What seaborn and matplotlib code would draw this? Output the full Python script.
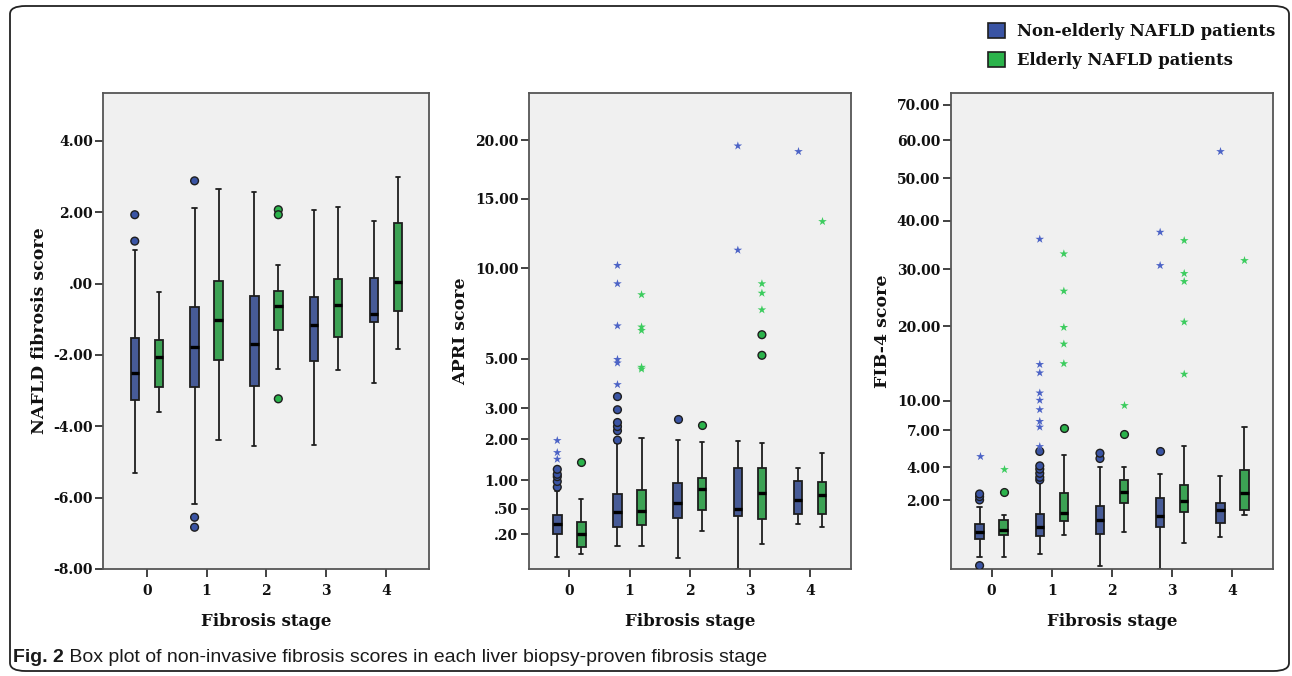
import numpy as np
import pandas as pd
import seaborn as sns
import matplotlib.pyplot as plt
from matplotlib.patches import Patch, FancyBboxPatch

# ---------------- data ----------------
stages = ["0", "1", "2", "3", "4"]
groups = ["Non-elderly NAFLD patients", "Elderly NAFLD patients"]

# NAFLD fibrosis score: five-number summaries per stage
nfs_non_lo = [-5.31, -6.18, -4.56, -4.52, -2.78]
nfs_non_q1 = [-3.27, -2.89, -2.87, -2.16, -1.08]
nfs_non_med = [-2.50, -1.79, -1.69, -1.17, -0.84]
nfs_non_q3 = [-1.52, -0.67, -0.36, -0.37, 0.16]
nfs_non_hi = [0.95, 2.12, 2.57, 2.06, 1.76]
nfs_non_circles = [[1.93, 1.19], [2.88, -6.55, -6.83], [], [], []]
nfs_non_stars = [[], [], [], [], []]
nfs_eld_lo = [-3.59, -4.38, -2.39, -2.42, -1.83]
nfs_eld_q1 = [-2.91, -2.14, -1.29, -1.51, -0.76]
nfs_eld_med = [-2.05, -1.01, -0.64, -0.60, 0.04]
nfs_eld_q3 = [-1.58, 0.08, -0.21, 0.14, 1.70]
nfs_eld_hi = [-0.23, 2.64, 0.53, 2.16, 3.00]
nfs_eld_circles = [[], [], [2.07, 1.93, -3.23], [], []]
nfs_eld_stars = [[], [], [], [], []]

# APRI score
apri_non_lo = [0.044, 0.108, 0.042, 0.008, 0.30]
apri_non_q1 = [0.20, 0.27, 0.37, 0.40, 0.43]
apri_non_med = [0.30, 0.457, 0.58, 0.50, 0.64]
apri_non_q3 = [0.41, 0.73, 0.94, 1.27, 0.99]
apri_non_hi = [0.78, 1.89, 1.98, 1.96, 1.25]
apri_non_circles = [[0.86, 0.97, 1.07, 1.12, 1.23], [1.98, 2.26, 2.39, 2.52, 2.95, 3.43], [2.65], [], []]
apri_non_stars = [[1.47, 1.64, 1.97], [3.90, 4.82, 4.98, 6.63, 9.03, 10.19], [], [11.21, 19.47], [18.97]]
apri_eld_lo = [0.058, 0.104, 0.23, 0.122, 0.27]
apri_eld_q1 = [0.097, 0.288, 0.48, 0.366, 0.42]
apri_eld_med = [0.198, 0.466, 0.82, 0.76, 0.72]
apri_eld_q3 = [0.33, 0.81, 1.05, 1.25, 0.96]
apri_eld_hi = [0.65, 2.03, 1.94, 1.90, 1.63]
apri_eld_circles = [[1.39], [], [2.45], [5.17, 6.17], []]
apri_eld_stars = [[], [4.55, 4.63, 6.39, 6.57, 8.37], [], [7.50, 8.46, 9.03], [13.26]]

# FIB-4 score
fib_non_lo = [0.18, 0.22, 0.065, 0.04, 0.60]
fib_non_q1 = [0.54, 0.61, 0.69, 0.90, 1.04]
fib_non_med = [0.75, 0.88, 1.16, 1.29, 1.55]
fib_non_q3 = [0.99, 1.38, 1.74, 2.10, 1.88]
fib_non_hi = [1.70, 3.04, 4.00, 3.51, 3.42]
fib_non_circles = [[0.071, 2.02, 2.19, 2.33], [3.14, 3.31, 3.57, 3.85, 4.08, 5.17], [4.62, 5.03], [5.19], []]
fib_non_stars = [[4.82], [5.57, 7.30, 7.85, 9.05, 10.07, 10.90, 13.36, 14.46, 36.05], [], [30.71, 37.54], [57.2]]
fib_eld_lo = [0.18, 0.65, 0.74, 0.44, 1.35]
fib_eld_q1 = [0.66, 1.11, 1.88, 1.46, 1.55]
fib_eld_med = [0.81, 1.40, 2.42, 1.98, 2.40]
fib_eld_q3 = [1.16, 2.37, 3.17, 2.84, 3.80]
fib_eld_hi = [1.32, 4.90, 4.03, 5.60, 7.30]
fib_eld_circles = [[2.42], [7.25], [6.68], [], []]
fib_eld_stars = [[3.89], [14.57, 17.32, 19.84, 25.93, 33.03], [9.52], [13.19, 20.69, 27.68, 29.18, 35.77], [31.77]]

nfs_ticks = [-8, -6, -4, -2, 0, 2, 4]
nfs_ticklabels = ["-8.00", "-6.00", "-4.00", "-2.00", ".00", "2.00", "4.00"]
apri_ticks = [0.2, 0.5, 1, 2, 3, 5, 10, 15, 20]
apri_ticklabels = [".20", ".50", "1.00", "2.00", "3.00", "5.00", "10.00", "15.00", "20.00"]
fib_ticks = [2, 4, 7, 10, 20, 30, 40, 50, 60, 70]
fib_ticklabels = ["2.00", "4.00", "7.00", "10.00", "20.00", "30.00", "40.00", "50.00", "60.00", "70.00"]

ylabels = ["NAFLD fibrosis score", "APRI score", "FIB-4 score"]
xlabel = "Fibrosis stage"
caption_bold = "Fig. 2"
caption_rest = " Box plot of non-invasive fibrosis scores in each liver biopsy-proven fibrosis stage"

# ---------------- style ----------------
sns.set_theme(style="ticks")
plt.rcParams['font.family'] = ['DejaVu Serif']
plt.rcParams['font.weight'] = 'bold'

box_colors = {groups[0]: "#3a54a4", groups[1]: "#2bb34b"}
star_colors = {groups[0]: "#4c63c6", groups[1]: "#3ccc5e"}
edge = "#1e1e1e"


def summary_frame(non, eld):
    rows = []
    for g, parts in zip(groups, (non, eld)):
        for i, s in enumerate(stages):
            for arr in parts:
                rows.append({"stage": s, "group": g, "value": arr[i]})
    return pd.DataFrame(rows)


def outlier_frame(non, eld):
    rows = []
    for g, lists in zip(groups, (non, eld)):
        for i, s in enumerate(stages):
            for v in lists[i]:
                rows.append({"stage": s, "group": g, "value": v})
    return pd.DataFrame(rows, columns=["stage", "group", "value"])


panels = [
    dict(box=summary_frame((nfs_non_lo, nfs_non_q1, nfs_non_med, nfs_non_q3, nfs_non_hi),
                           (nfs_eld_lo, nfs_eld_q1, nfs_eld_med, nfs_eld_q3, nfs_eld_hi)),
         circ=outlier_frame(nfs_non_circles, nfs_eld_circles),
         star=outlier_frame(nfs_non_stars, nfs_eld_stars),
         ticks=nfs_ticks, labels=nfs_ticklabels, ylim=(-8.0, 5.35), sqrt=False,
         rect=(103.3, 92.7, 429.3, 569.0), xlim=(-0.726, 4.724)),
    dict(box=summary_frame((apri_non_lo, apri_non_q1, apri_non_med, apri_non_q3, apri_non_hi),
                           (apri_eld_lo, apri_eld_q1, apri_eld_med, apri_eld_q3, apri_eld_hi)),
         circ=outlier_frame(apri_non_circles, apri_eld_circles),
         star=outlier_frame(apri_non_stars, apri_eld_stars),
         ticks=apri_ticks, labels=apri_ticklabels, ylim=(0.0083, 24.56), sqrt=True,
         rect=(528.7, 92.7, 851.0, 569.0), xlim=(-0.675, 4.68)),
    dict(box=summary_frame((fib_non_lo, fib_non_q1, fib_non_med, fib_non_q3, fib_non_hi),
                           (fib_eld_lo, fib_eld_q1, fib_eld_med, fib_eld_q3, fib_eld_hi)),
         circ=outlier_frame(fib_non_circles, fib_eld_circles),
         star=outlier_frame(fib_non_stars, fib_eld_stars),
         ticks=fib_ticks, labels=fib_ticklabels, ylim=(0.043, 73.6), sqrt=True,
         rect=(950.7, 92.7, 1273.3, 569.0), xlim=(-0.68, 4.68)),
]

W, H = 1292, 676
fig = plt.figure(figsize=(W / 100, H / 100), dpi=100)
fig.patch.set_facecolor("white")


def fwd(x):
    return np.sqrt(np.clip(x, 0, None))


def inv(x):
    return np.square(x)


for k, p in enumerate(panels):
    l, t, r, b = p["rect"]
    ax = fig.add_axes([l / W, (H - b) / H, (r - l) / W, (b - t) / H])
    ax.set_facecolor("#f0f0f0")
    sns.boxplot(data=p["box"], x="stage", y="value", hue="group", order=stages,
                hue_order=groups, palette=box_colors, whis=(0, 100), width=0.8,
                gap=0.65, showfliers=False, linewidth=1.3, linecolor=edge,
                medianprops=dict(color="black", linewidth=2.4),
                legend=False, ax=ax)
    if len(p["circ"]):
        sns.stripplot(data=p["circ"], x="stage", y="value", hue="group", order=stages,
                      hue_order=groups, palette=box_colors, dodge=True, jitter=False,
                      size=5.6, linewidth=1.0, edgecolor=edge, marker="o",
                      legend=False, ax=ax, zorder=4)
    if len(p["star"]):
        sns.stripplot(data=p["star"], x="stage", y="value", hue="group", order=stages,
                      hue_order=groups, palette=star_colors, dodge=True, jitter=False,
                      size=6.5, linewidth=0, marker="*",
                      legend=False, ax=ax, zorder=4)
    if p["sqrt"]:
        ax.set_yscale("function", functions=(fwd, inv))
    ax.set_ylim(*p["ylim"])
    ax.set_xlim(*p["xlim"])
    ax.set_yticks(p["ticks"])
    ax.set_yticklabels(p["labels"])
    ax.minorticks_off()
    ax.set_xticks(range(len(stages)))
    ax.set_xticklabels(stages)
    ax.tick_params(axis="both", length=5.5, width=1.3, color="#333333",
                   labelsize=10, labelcolor="#111111", pad=2)
    ax.tick_params(axis="x", pad=5)
    for lab in ax.get_xticklabels() + ax.get_yticklabels():
        lab.set_fontweight("bold")
    for sp in ax.spines.values():
        sp.set_visible(True)
        sp.set_color("#555555")
        sp.set_linewidth(1.3)
    ax.set_xlabel(xlabel, fontsize=12, fontweight="bold", color="#111111", labelpad=11)
    ax.set_ylabel(ylabels[k], fontsize=12.5, fontweight="bold", color="#111111", labelpad=4)

handles = [Patch(facecolor=box_colors[g], edgecolor=edge, linewidth=1.2, label=g) for g in groups]
leg = fig.legend(handles=handles, loc="upper left", bbox_to_anchor=(988 / W, 1 - 23 / H),
                 frameon=False, fontsize=11.8, handlelength=1.05, handleheight=1.05,
                 handletextpad=0.7, labelspacing=0.72, borderpad=0, borderaxespad=0)
for txt in leg.get_texts():
    txt.set_fontweight("bold")
    txt.set_color("#111111")

frame = FancyBboxPatch((10 / W, 5 / H), 1279 / W, 665 / H,
                       boxstyle="round,pad=0,rounding_size=0.012",
                       transform=fig.transFigure, fill=False, edgecolor="#222222",
                       linewidth=1.3, zorder=0)
fig.patches.append(frame)

t1 = fig.text(13 / W, 1 - 657 / H, caption_bold, fontsize=14, fontweight="bold",
              family=["Liberation Sans", "DejaVu Sans"], color="#1a1a1a", va="center", ha="left")
fig.canvas.draw()
bb = t1.get_window_extent()
fig.text(bb.x1 / W, 1 - 657 / H, caption_rest, fontsize=14, fontweight="normal",
         family=["Liberation Sans", "DejaVu Sans"], color="#1a1a1a", va="center", ha="left")

fig.savefig("out.png", dpi=100)
